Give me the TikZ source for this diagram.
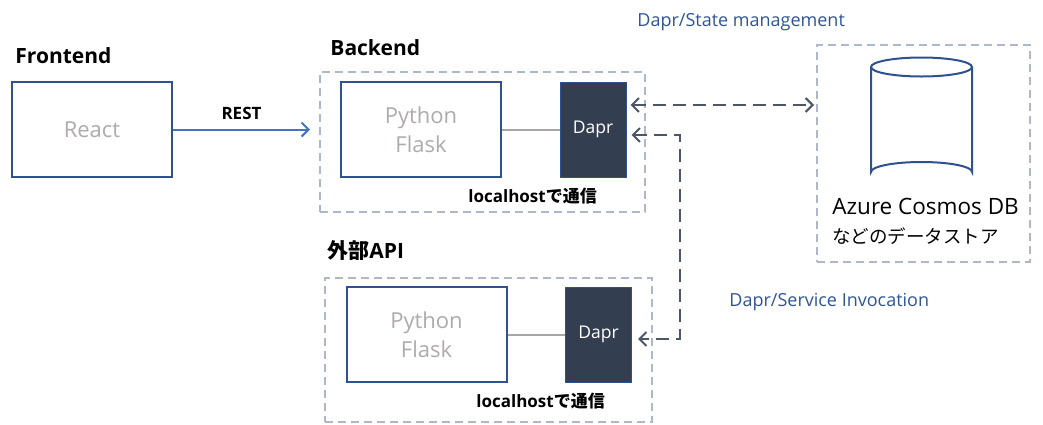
\documentclass[tikz,border=0pt]{standalone}
\usepackage{fontspec}
\setmainfont{Open Sans}
\newfontfamily\jp{Noto Sans CJK JP}
\usetikzlibrary{arrows.meta}
\definecolor{boxblue}{HTML}{2F528F}
\definecolor{restblue}{HTML}{4472C4}
\definecolor{labelblue}{HTML}{2F5597}
\definecolor{grouppale}{HTML}{ADB9CA}
\definecolor{daprfill}{HTML}{333F50}
\definecolor{linkgray}{HTML}{4D5668}
\definecolor{textgray}{HTML}{AFABAB}
\definecolor{wiregray}{HTML}{A6A6A6}
\newcommand{\fsz}[1]{\fontsize{#1}{#1}\selectfont}

\begin{document}
\begin{tikzpicture}[x=1pt,y=-1pt,thick]
	% `app' is used for the Python/React boxes, `sidecar' for the dark Dapr boxes.
	% `group' is used for the dashed surrounding boxes.
	\tikzstyle{app} = [draw=boxblue,line width=2pt,fill=white,minimum width=160pt,minimum height=95pt,text=textgray,align=center,font=\fsz{22},inner sep=0pt]
	\tikzstyle{sidecar} = [draw=boxblue,line width=1pt,fill=daprfill,minimum width=66pt,minimum height=95pt,text=white,font=\fsz{17.5},inner sep=0pt]
	\tikzstyle{group} = [draw=grouppale,line width=2pt,dash pattern=on 8pt off 5pt,inner sep=0pt]
	\tikzstyle{title} = [font=\bfseries\fsz{21},anchor=base west,inner sep=0pt]
	\tikzstyle{note} = [font=\bfseries\fsz{17},anchor=base west,inner sep=0pt]
	\tikzstyle{daprlabel} = [font=\fsz{18},text=labelblue,anchor=base west,inner sep=0pt]
	\tikzstyle{link} = [draw=linkgray,line width=2pt,dash pattern=on 13pt off 7pt,{Straight Barb[length=7pt,width=14pt]}-{Straight Barb[length=7pt,width=14pt]}]
	\useasboundingbox (0,0) rectangle (1043,424);
	%
	% Frontend.
	\node[title] (fetitle) at (15,63) {Frontend};
	\node[app] (react) at (92,129.5) {React};
	%
	% Backend.
	\node[title] (betitle) at (330,55) {Backend};
	\node[group,minimum width=325pt,minimum height=140pt] (backend) at (482.5,142) {};
	\node[app] (flaskA) at (421,129.5) {Python\\[7pt]Flask};
	\node[sidecar] (daprA) at (593,129.5) {Dapr};
	\node[note] (hostA) at (468,202) {localhost{\jp で通信}};
	%
	% External API.
	\node[title] (extitle) at (327,258) {{\jp 外部}API};
	\node[group,minimum width=327pt,minimum height=144pt] (external) at (488.5,350) {};
	\node[app] (flaskB) at (426.5,334.5) {Python\\[7pt]Flask};
	\node[sidecar] (daprB) at (598.5,334.5) {Dapr};
	\node[note] (hostB) at (476,407) {localhost{\jp で通信}};
	%
	% Data store.
	\node[group,minimum width=213pt,minimum height=217pt] (store) at (923.5,153.5) {};
	\draw[draw=boxblue,line width=2pt] (871,67) -- (871,172) arc[start angle=180,end angle=360,x radius=50.5,y radius=10] -- (972,67);
	\draw[draw=boxblue,line width=2pt,fill=white] (921.5,67) ellipse[x radius=50.5,y radius=9.5];
	\node[anchor=base west,inner sep=0pt,font=\fsz{22.5}] (dbname) at (832,214) {Azure Cosmos DB};
	\node[anchor=base west,inner sep=0pt,font=\jp\fsz{18.5}] (dbnote) at (832,243) {などのデータストア};
	%
	% Labels of the Dapr connections.
	\node[daprlabel] (statelbl) at (637,26) {Dapr/State management};
	\node[daprlabel] (invokelbl) at (729,306) {Dapr/Service Invocation};
	%
	% Draw lines.
	\draw[restblue,line width=2pt,-{Straight Barb[length=7pt,width=14pt]}] (react.east) -- ([xshift=-9pt]backend.west |- react.east) node[midway,above=6pt,font=\bfseries\fsz{17},text=black] (restlbl) {REST};
	\draw[wiregray,line width=2pt] (flaskA) -- (daprA);
	\draw[wiregray,line width=2pt] (flaskB) -- (daprB);
	\draw[link] ([xshift=4pt,yshift=24.5pt]daprA.east) -- ([xshift=-2pt,yshift=48.5pt]store.west);
	\draw[link] ([xshift=5pt,yshift=-5.5pt]daprA.east) -- ++(48,0) |- ([xshift=6pt,yshift=-4.5pt]daprB.east);
\end{tikzpicture}
\end{document}
